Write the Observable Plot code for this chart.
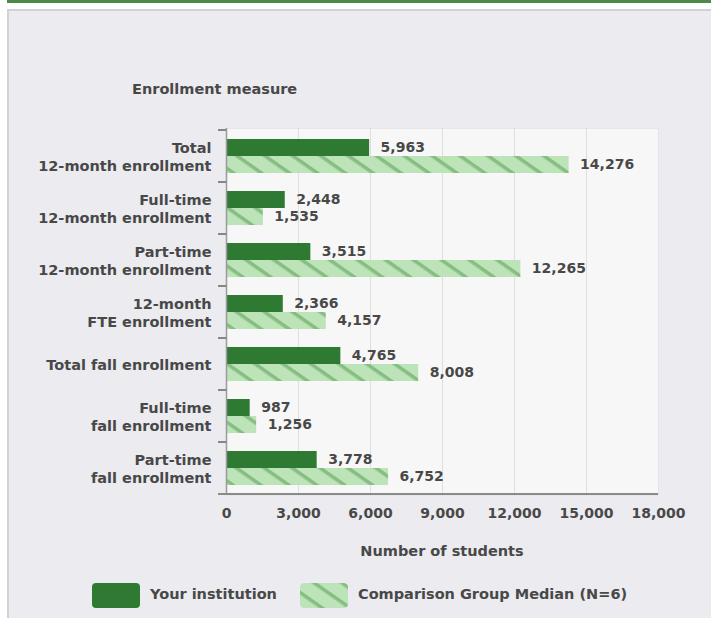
<!DOCTYPE html>
<html>
<head>
<meta charset="utf-8">
<script src="https://cdn.jsdelivr.net/npm/d3@7"></script>
<script src="https://cdn.jsdelivr.net/npm/@observablehq/plot@0.6"></script>
<style>
  html, body { margin: 0; padding: 0; background: #ffffff; }
  body { width: 711px; height: 618px; position: relative; overflow: hidden; font-family: "DejaVu Sans", sans-serif; }
  #topbar { position: absolute; left: 7px; top: 0; width: 704px; height: 3px; background: #4b8a48; }
  #panel { position: absolute; left: 7px; top: 9px; width: 704px; height: 609px; background: #ebebf0;
           border-left: 2px solid #d2d2d6; border-top: 2px solid #d2d2d6; box-sizing: border-box; }
  #chart { position: absolute; left: 0; top: 0; }
  .t { position: absolute; font-weight: bold; font-size: 14.5px; color: #484848; white-space: nowrap; line-height: 1; }
  .sw { position: absolute; width: 48px; height: 25px; border-radius: 4px; }
</style>
</head>
<body>
<div id="topbar"></div>
<div id="panel"></div>
<div id="chart"></div>
<div class="t" id="ytitle" style="left:132px; top:82px;">Enrollment measure</div>
<div class="t" id="xtitle" style="left:442px; top:544px; transform: translateX(-50%);">Number of students</div>
<div class="sw" style="left:92px; top:583px; background:#2f7a33;"></div>
<div class="t" style="left:150px; top:587px;">Your institution</div>
<svg class="sw" style="left:300px; top:583px;" width="48" height="25">
  <defs>
    <pattern id="hatchLegend" patternUnits="userSpaceOnUse" width="40" height="16" patternTransform="rotate(35)">
      <rect width="40" height="16" fill="#bde3b8"></rect>
      <rect y="6" width="40" height="3.5" fill="#86bd81"></rect>
    </pattern>
  </defs>
  <rect width="48" height="25" rx="4" fill="url(#hatchLegend)"></rect>
</svg>
<div class="t" style="left:358px; top:587px;">Comparison Group Median (N=6)</div>

<script>
const categories = [
  "Total\n12-month enrollment",
  "Full-time\n12-month enrollment",
  "Part-time\n12-month enrollment",
  "12-month\nFTE enrollment",
  "Total fall enrollment",
  "Full-time\nfall enrollment",
  "Part-time\nfall enrollment"
];
const yourInstitution = [5963, 2448, 3515, 2366, 4765, 987, 3778];
const comparisonMedian = [14276, 1535, 12265, 4157, 8008, 1256, 6752];
const xTicks = [0, 3000, 6000, 9000, 12000, 15000, 18000];

const data = categories.map((c, i) => ({cat: c, inst: yourInstitution[i], comp: comparisonMedian[i]}));
const fmt = d3.format(",");

const plot = Plot.plot({
  width: 711,
  height: 570,
  marginLeft: 226,
  marginRight: 53,
  marginTop: 128,
  marginBottom: 75,
  style: {fontFamily: "DejaVu Sans, sans-serif", fontSize: "14px", fontWeight: "bold", color: "#484848", background: "transparent", overflow: "visible"},
  x: {domain: [0, 18000], ticks: xTicks, label: null},
  y: {domain: categories, paddingInner: 0.35, paddingOuter: 0.175, label: null},
  marks: [
    Plot.frame({fill: "#f7f7f7", stroke: "#e6e6e8"}),
    Plot.gridX(xTicks.slice(1, -1), {stroke: "#dedede", strokeOpacity: 1}),
    Plot.barX(data, {x: "inst", y: "cat", fill: "#2f7a33", insetBottom: 17}),
    Plot.barX(data, {x: "comp", y: "cat", fill: "url(#hatch)", insetTop: 17}),
    Plot.text(data, {x: "inst", y: "cat", text: d => fmt(d.inst), dx: 11, dy: -9, textAnchor: "start", fill: "#484848", fontSize: 14}),
    Plot.text(data, {x: "comp", y: "cat", text: d => fmt(d.comp), dx: 11, dy: 8.5, textAnchor: "start", fill: "#484848", fontSize: 14}),
    Plot.ruleX([0], {stroke: "#9a9a9a", strokeWidth: 1.5}),
    Plot.axisX({ticks: xTicks, tickSize: 0, tickPadding: 13, tickFormat: fmt, label: null, fill: "#484848", fontSize: 14}),
    Plot.axisY({tickSize: 0, tickPadding: 15, label: null, lineHeight: 1.22, fill: "#484848", fontSize: 14.5})
  ]
});

document.getElementById("chart").appendChild(plot);

// pattern definition for hatched bars
const svg = d3.select(plot);
const defs = svg.insert("defs", ":first-child");
const pat = defs.append("pattern").attr("id", "hatch").attr("patternUnits", "userSpaceOnUse")
  .attr("width", 40).attr("height", 16).attr("patternTransform", "rotate(35)");
pat.append("rect").attr("width", 40).attr("height", 16).attr("fill", "#bde3b8");
pat.append("rect").attr("y", 6).attr("width", 40).attr("height", 3.5).attr("fill", "#86bd81");

// band-boundary ticks on the y axis and extended x axis line, from Plot's scales
const ys = plot.scale("y");
const xs = plot.scale("x");
const step = ys.step, bw = ys.bandwidth;
const x0 = xs.apply(0);
const bounds = categories.map(c => ys.apply(c) - (step - bw) / 2);
bounds.push(ys.apply(categories[categories.length - 1]) + bw + (step - bw) / 2);
const g = svg.append("g");
g.selectAll("line.tk").data(bounds.slice(0, -1)).join("line")
  .attr("x1", x0 - 8).attr("x2", x0).attr("y1", d => d).attr("y2", d => d)
  .attr("stroke", "#666").attr("stroke-width", 1.5);
g.append("line").attr("x1", x0 - 8).attr("x2", xs.apply(18000))
  .attr("y1", bounds[bounds.length - 1]).attr("y2", bounds[bounds.length - 1])
  .attr("stroke", "#8a8a8a").attr("stroke-width", 2);
</script>
</body>
</html>
